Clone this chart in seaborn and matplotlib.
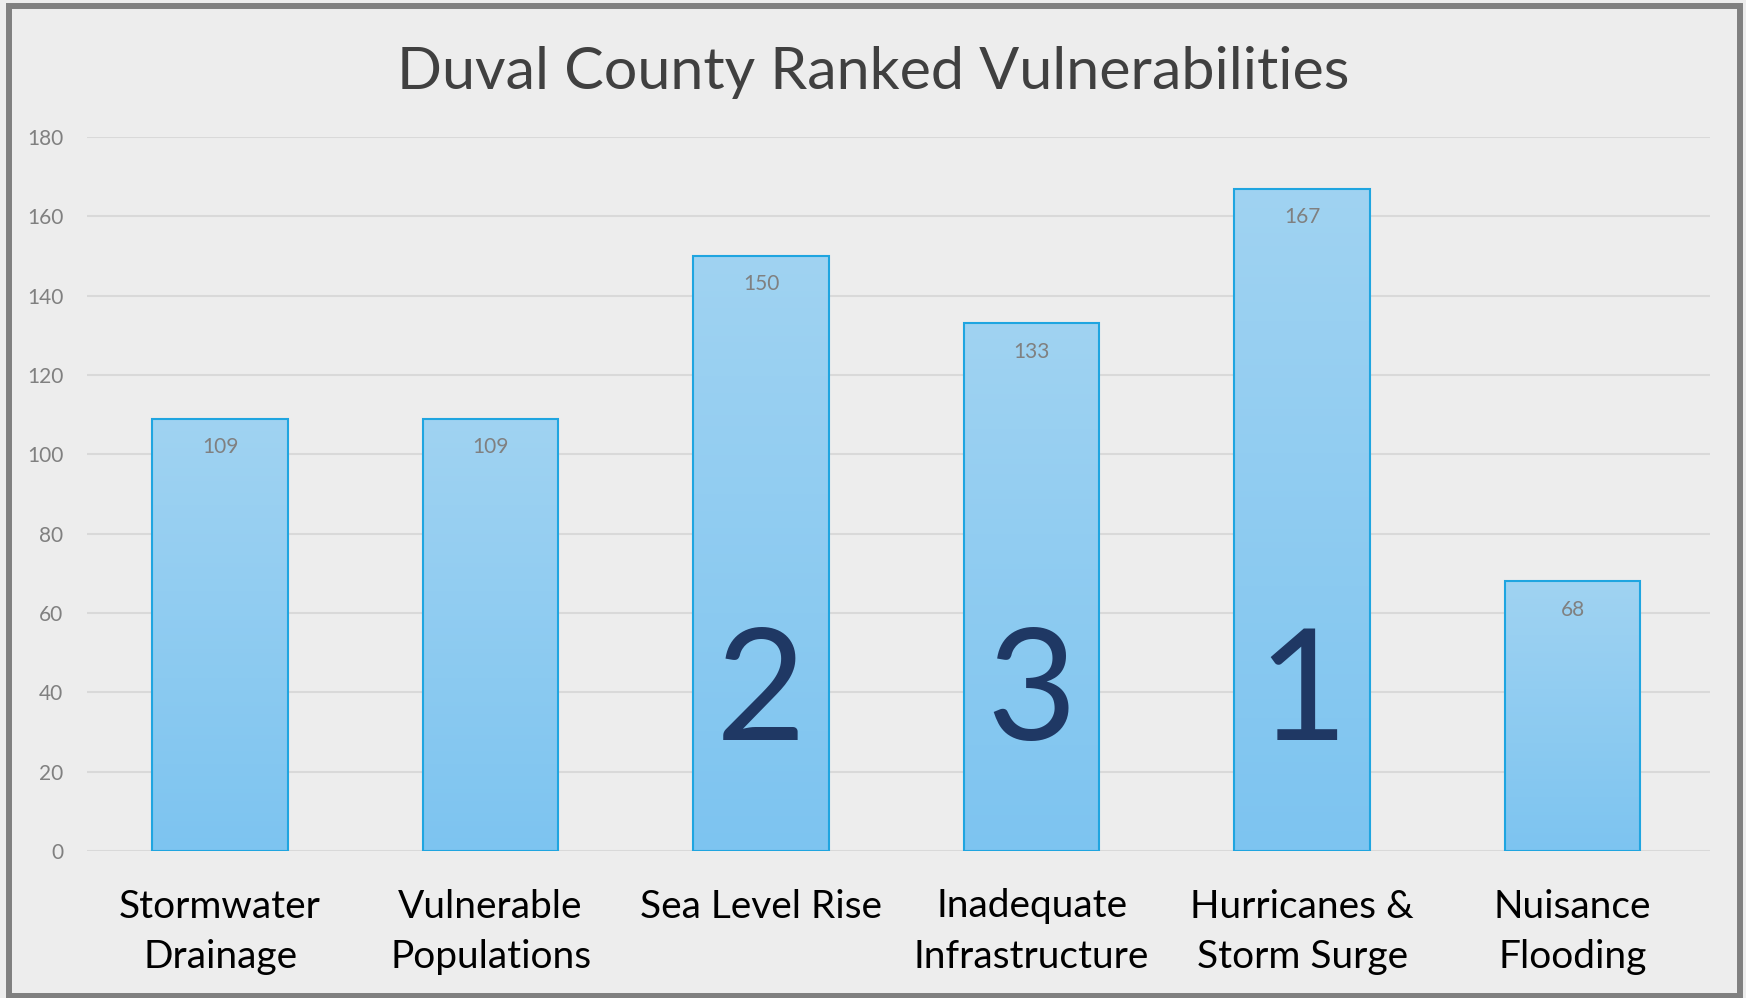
import numpy as np
import pandas as pd
import matplotlib
matplotlib.use("Agg")
import matplotlib.pyplot as plt
import seaborn as sns
from matplotlib.patches import Rectangle
from matplotlib.colors import LinearSegmentedColormap

categories = ["Stormwater\nDrainage", "Vulnerable\nPopulations", "Sea Level Rise",
              "Inadequate\nInfrastructure", "Hurricanes &\nStorm Surge", "Nuisance\nFlooding"]
scores = [109, 109, 150, 133, 167, 68]
ranks = ["", "", "2", "3", "1", ""]
y_ticks = [0, 20, 40, 60, 80, 100, 120, 140, 160, 180]

df = pd.DataFrame({"category": categories, "score": scores})

sns.set_style("white")
plt.rcParams['font.family'] = ['Lato', 'DejaVu Sans']

fig = plt.figure(figsize=(17.46, 9.98), dpi=100, facecolor='#EDEDED')
ax = fig.add_axes([87/1746, 1-851/998, (1710-87)/1746, (851-137)/998])
ax.set_facecolor('#EDEDED')

sns.barplot(data=df, x="category", y="score", ax=ax, width=0.5,
            color='#8CCBF1', edgecolor='#1FA5E0', linewidth=1.5, saturation=1, zorder=3)

# vertical gradient inside each bar
cmap = LinearSegmentedColormap.from_list("barfill", ['#7DC4F0', '#A0D3F2'])
grad = np.linspace(0, 1, 256).reshape(-1, 1)
for p in ax.patches:
    x0, y0 = p.get_x(), p.get_y()
    w, h = p.get_width(), p.get_height()
    im = ax.imshow(grad, cmap=cmap, origin='lower', aspect='auto',
                   extent=[x0, x0 + w, y0, y0 + h], zorder=3.5)
    im.set_clip_path(p)
    p.set_facecolor('none')
    p.set_zorder(4)

ax.set_xlim(-0.492, len(categories) - 0.492)
ax.set_ylim(0, 180)
ax.set_yticks(y_ticks)
ax.yaxis.grid(True, color='#D9D9D9', linewidth=1.5, zorder=0)
ax.set_axisbelow(True)
for s in ax.spines.values():
    s.set_visible(False)
ax.tick_params(axis='y', length=0, pad=17, labelsize=15, labelcolor='#808080')
ax.tick_params(axis='x', length=0, pad=27, labelsize=28, labelcolor='#000000')
for t in ax.get_xticklabels():
    t.set_linespacing(1.5)
ax.set_xlabel("")
ax.set_ylabel("")

# data labels just inside the bar tops
for i, v in enumerate(scores):
    ax.annotate(str(v), (i, v), xytext=(0, -20.5), textcoords='offset points',
                ha='center', va='center', fontsize=15, color='#808080', zorder=6)

# rank numbers
for i, r in enumerate(ranks):
    if r:
        ax.text(i, 28, r, ha='center', va='baseline', fontsize=112,
                color='#1F3864', zorder=6)

fig.text(0.5, 1 - 89/998, "Duval County Ranked Vulnerabilities", ha='center',
         va='baseline', fontsize=42.7, color='#404040')

# outer frame
frame = Rectangle((9/1746, 2/998), (1740-9)/1746, (992-2)/998, transform=fig.transFigure,
                  fill=False, edgecolor='#808080', linewidth=4.3, zorder=10)
fig.patches.append(frame)

fig.savefig("out.png", dpi=100, facecolor=fig.get_facecolor())
